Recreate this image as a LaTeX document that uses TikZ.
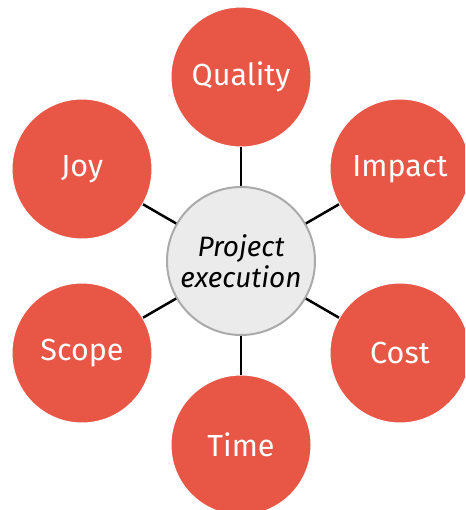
\documentclass[tikz,border=0pt]{standalone}
\usepackage{fontspec}
\setmainfont{Fira Sans}
\definecolor{petalred}{HTML}{E85646}
\definecolor{hubgray}{HTML}{EBEBEB}
\definecolor{hubedge}{HTML}{AAAAAA}
\begin{document}
\begin{tikzpicture}[x=1pt,y=-1pt,
  petal/.style={circle, fill=petalred, draw=white, line width=1pt,
    minimum size=140pt, inner sep=0pt, text=white,
    font=\fontsize{30.5}{34}\selectfont},
  hub/.style={circle, fill=hubgray, draw=hubedge, line width=2pt,
    minimum size=148pt, inner sep=0pt, align=center,
    font=\itshape\fontsize{28}{31}\selectfont},
  spoke/.style={line width=2.5pt}]
\useasboundingbox (0,0) rectangle (465,510);
\clip (0,0) rectangle (465,510);
% centre
\node[hub] (exec) at (241,261) {Project\\execution};
% petals
\node[petal] (quality) at (241,77) {Quality};
\node[petal] (impact) at (400,169) {Impact};
\node[petal] (cost) at (400,353) {Cost};
\node[petal] (time) at (241,445) {Time};
\node[petal] (scope) at (82,353) {Scope};
\node[petal] (joy) at (82,169) {Joy};
% spokes
\draw[spoke] (exec) -- (quality);
\draw[spoke] (exec) -- (impact);
\draw[spoke] (exec) -- (cost);
\draw[spoke] (exec) -- (time);
\draw[spoke] (exec) -- (scope);
\draw[spoke] (exec) -- (joy);
\end{tikzpicture}
\end{document}
